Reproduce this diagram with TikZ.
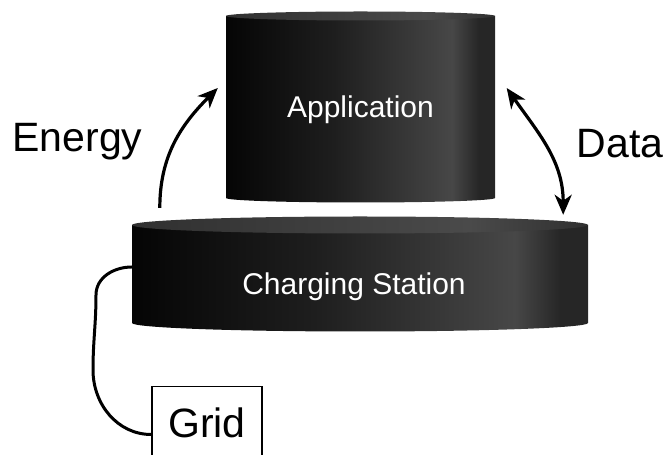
\documentclass[tikz,border=0pt]{standalone}
\usepackage{fontspec}
\setmainfont{Liberation Sans}
\usetikzlibrary{arrows.meta, positioning, calc}
\definecolor{CylDark}{HTML}{050505}
\definecolor{CylMid}{HTML}{1E1E1E}
\definecolor{CylLight}{HTML}{474747}
\definecolor{CylEdge}{HTML}{262626}
\definecolor{TopDark}{HTML}{303030}
\definecolor{TopLight}{HTML}{4A4A4A}

% side and lid of a cylinder (25bp = left edge, 75bp = right edge)
\pgfdeclarehorizontalshading{cylside}{100bp}{color(0bp)=(CylDark); color(25bp)=(CylDark);
  color(45bp)=(CylMid); color(67bp)=(CylLight); color(72bp)=(CylEdge); color(75bp)=(CylEdge); color(100bp)=(CylEdge)}
\pgfdeclarehorizontalshading{cyltop}{100bp}{color(0bp)=(TopDark); color(25bp)=(TopDark);
  color(62bp)=(TopLight); color(75bp)=(TopDark); color(100bp)=(TopDark)}

% centre x, top y, bottom y, x radius, y radius
\newcommand{\drawcyl}[5]{%
  \shade[shading=cylside] (#1-#4,#2) -- (#1-#4,#3)
    arc[start angle=180, end angle=360, x radius=#4, y radius=#5] -- (#1+#4,#2) -- cycle;
  \shade[shading=cyltop] (#1,#2) ellipse[x radius=#4, y radius=#5];
}

\tikzset{
  cylbox/.style={inner sep=0pt},
  cyltext/.style={white, font=\fontsize{30}{36}\selectfont},
  bigtext/.style={font=\fontsize{41}{49}\selectfont},
  tip/.tip={Stealth[length=20pt, width=17pt, inset=6pt]},
  flow/.style={line width=3.2pt, -tip},
  wire/.style={line width=3pt}
}

\begin{document}
\begin{tikzpicture}[x=1pt, y=1pt]
    \useasboundingbox (0,0) rectangle (665,455);

    % Cylinders
    \drawcyl{360}{230}{132}{228}{8.5}
    \drawcyl{360.5}{439}{257}{134.5}{4.5}

    % Cylinder outlines as nodes
    \node (station) [cylbox, minimum width=456pt, minimum height=115pt] at (360,180.5) {};
    \node (app) [cylbox, minimum width=269pt, minimum height=191pt] at (360.5,348) {};

    \node[cyltext] (applabel) at ($(app.center)+(0,-3)$) {Application};
    \node[cyltext] (stationlabel) at ($(station.center)+(-6,-12.5)$) {Charging Station};

    % Grid supply
    \node (grid) [draw, line width=1.4pt, bigtext, anchor=north, minimum width=110pt,
        inner xsep=0pt, inner ysep=21pt] at (207,69) {Grid};
    \coordinate (plug) at ($(station.west)+(0,7.5)$);
    \coordinate (bend1) at (96,160);
    \coordinate (bend2) at (93,85);
    \draw[wire] (plug) to[out=180, in=90] (bend1) to[out=-90, in=90] (bend2)
        to[out=-90, in=180] ($(grid.south west)+(0,25)$);

    % Energy flow
    \node[bigtext, anchor=base] (energy) at (77.5,303) {Energy};
    \draw[flow] ($(station.north west)+(28,9)$) to[out=90, in=225] ($(app.west)+(-8,19)$);

    % Data link
    \node[bigtext, anchor=base] (data) at (620,297) {Data};
    \draw[flow, tip-tip] ($(app.east)+(11.5,19)$)
        to[out=-55, in=90] ($(station.north east)+(-25,2)$);
\end{tikzpicture}
\end{document}
